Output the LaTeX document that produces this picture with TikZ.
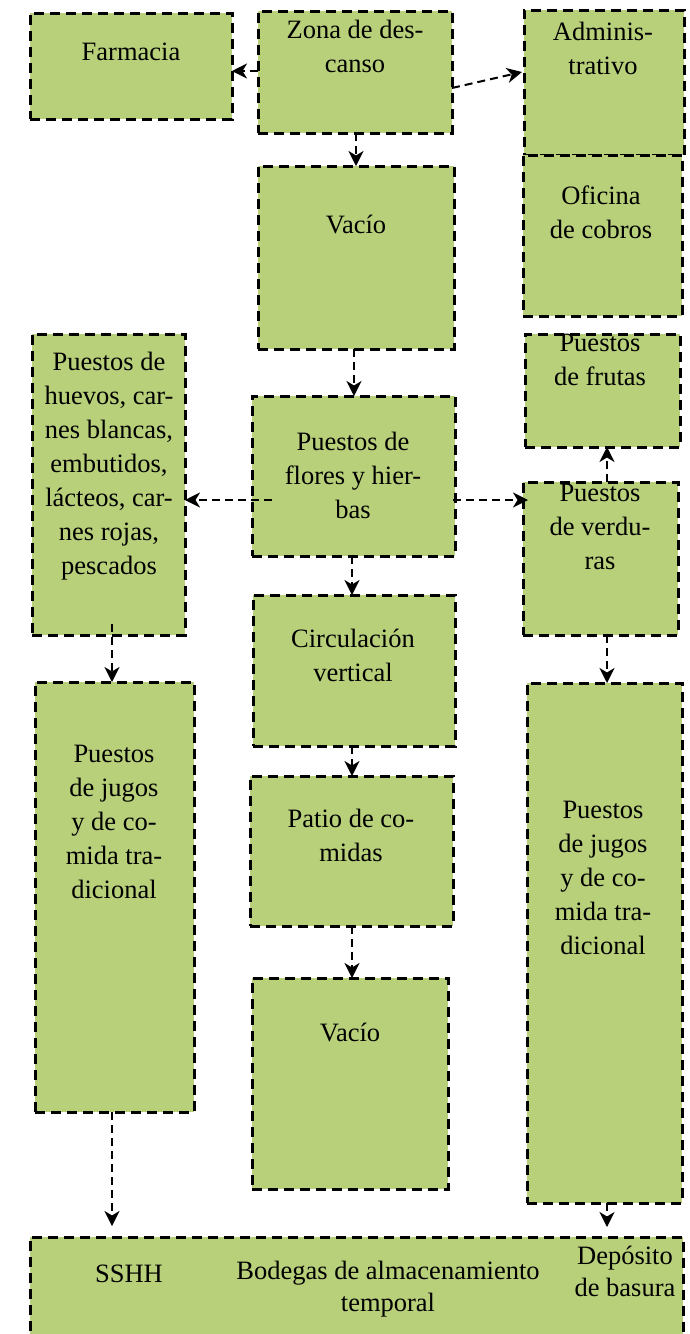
\documentclass[tikz,border=0pt]{standalone}
\usepackage{fontspec}
\setmainfont{Liberation Serif}
\usetikzlibrary{arrows.meta}
\definecolor{boxgreen}{RGB}{185,208,122}
\tikzset{
  x=1pt, y=-1pt,
  zone/.style={draw=black, fill=boxgreen, line width=3pt, dash pattern=on 10pt off 6pt,
    rectangle, inner sep=0pt, outer sep=0pt, anchor=north west},
  lbl/.style={anchor=north, align=center, inner sep=0pt, font=\fontsize{26.5}{34}\selectfont},
  lblb/.style={anchor=north, align=center, inner sep=0pt, font=\fontsize{26.5}{32}\selectfont},
  flow/.style={draw=black, line width=2pt, dash pattern=on 8pt off 5pt,
    -{Stealth[length=15pt,width=15pt,inset=4.5pt]}},
}
\begin{document}
\begin{tikzpicture}
\useasboundingbox (0,0) rectangle (690,1334);
\clip (0,0) rectangle (690,1334);
% boxes
\node[zone, minimum width=202pt, minimum height=106pt] (farm) at (30,13) {};
\node[zone, minimum width=194pt, minimum height=122pt] (zona) at (258,11) {};
\node[zone, minimum width=160pt, minimum height=145pt] (admin) at (524,10) {};
\node[zone, minimum width=159pt, minimum height=161pt] (ofic) at (523,155) {};
\node[zone, minimum width=196pt, minimum height=183pt] (vac1) at (258,166) {};
\node[zone, minimum width=153pt, minimum height=301pt] (huev) at (32,334) {};
\node[zone, minimum width=155pt, minimum height=113pt] (frut) at (525,334) {};
\node[zone, minimum width=203pt, minimum height=160pt] (flor) at (252,396) {};
\node[zone, minimum width=155pt, minimum height=153pt] (verd) at (523,482) {};
\node[zone, minimum width=202pt, minimum height=151pt] (circ) at (253,595) {};
\node[zone, minimum width=159pt, minimum height=430pt] (jugL) at (35,682) {};
\node[zone, minimum width=155pt, minimum height=520pt] (jugR) at (527,683) {};
\node[zone, minimum width=203pt, minimum height=150pt] (patio) at (250,776) {};
\node[zone, minimum width=196pt, minimum height=211pt] (vac2) at (252,978) {};
\node[zone, minimum width=653pt, minimum height=130pt] (bot) at (30,1237) {};
% labels
\node[lbl] (tfarm) at (131,36.7) {\strut Farmacia};
\node[lbl] (tzona) at (355,14.7) {\strut Zona de des-\\canso};
\node[lbl] (tadmin) at (603,16.7) {\strut Adminis-\\trativo};
\node[lbl] (tofic) at (601,180.7) {\strut Oficina\\de cobros};
\node[lbl] (tvac1) at (356,209.7) {\strut Vacío};
\node[lbl] (thuev) at (109,346.7) {\strut Puestos de\\huevos, car-\\nes blancas,\\embutidos,\\lácteos, car-\\nes rojas,\\pescados};
\node[lbl] (tfrut) at (600,327.7) {\strut Puestos\\de frutas};
\node[lbl] (tflor) at (353,426.7) {\strut Puestos de\\flores y hier-\\bas};
\node[lbl] (tverd) at (600,477.7) {\strut Puestos\\de verdu-\\ras};
\node[lbl] (tcirc) at (353,623.7) {\strut Circulación\\vertical};
\node[lbl] (tpatio) at (351,803.7) {\strut Patio de co-\\midas};
\node[lbl] (tvac2) at (350,1017.7) {\strut Vacío};
\node[lbl] (tjugL) at (114,738.7) {\strut Puestos\\de jugos\\y de co-\\mida tra-\\dicional};
\node[lbl] (tjugR) at (603,794.7) {\strut Puestos\\de jugos\\y de co-\\mida tra-\\dicional};
\node[lblb] (tsshh) at (129,1259.7) {\strut SSHH};
\node[lblb] (tbod) at (388,1256.7) {\strut Bodegas de almacenamiento\\temporal};
\node[lblb] (tdep) at (625,1241.7) {\strut Depósito\\de basura};
% helper coordinates
\coordinate (zonaR) at (452,88);
\coordinate (adminL) at (522,72);
\coordinate (florIn) at (272,500);
\coordinate (florR) at (453,500);
\coordinate (verdIn) at (528,500);
\coordinate (huevIn) at (112,624);
% connectors
\draw[flow] (zona.west |- 0,71) -- (farm.east |- 0,71);
\draw[flow] (zonaR) -- (adminL);
\draw[flow] (zona.south -| 356,0) -- (vac1.north -| 356,0);
\draw[flow] (vac1.south -| 354,0) -- (flor.north -| 354,0);
\draw[flow] (florIn) -- (huev.east |- florIn);
\draw[flow] (florR) -- (verdIn);
\draw[flow] (verd.north -| 607,0) -- (frut.south -| 607,0);
\draw[flow] (flor.south -| 352,0) -- (circ.north -| 352,0);
\draw[flow] (circ.south -| 352,0) -- (patio.north -| 352,0);
\draw[flow] (patio.south -| 352,0) -- (vac2.north -| 352,0);
\draw[flow] (huevIn) -- (jugL.north -| huevIn);
\draw[flow] (verd.south -| 607,0) -- (jugR.north -| 607,0);
\draw[flow, shorten >=11pt] (jugL.south -| 112,0) -- (bot.north -| 112,0);
\draw[flow, shorten >=10pt] (jugR.south -| 607,0) -- (bot.north -| 607,0);
\end{tikzpicture}
\end{document}
